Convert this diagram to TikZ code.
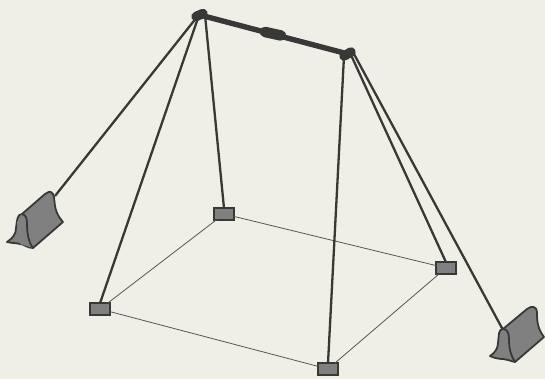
\documentclass[tikz,border=0pt]{standalone}
\definecolor{paper}{HTML}{F0EFE7}
\definecolor{ink}{HTML}{383836}
\definecolor{metal}{HTML}{808080}
\tikzset{
  x=1pt,y=-1pt,
  stake/.style={draw=ink,fill=metal,line width=2pt,minimum width=20pt,minimum height=11.5pt,inner sep=0pt,outer sep=0pt},
  cable/.style={draw=ink,line width=2.3pt},
  guide/.style={draw=ink!85,line width=0.8pt},
  bar/.style={draw=ink,line width=5.4pt},
  clamp/.style={draw=ink,line width=10.5pt,line cap=round},
  endclamp/.style={draw=ink,line width=9.5pt,line cap=round},
  anchor shape/.style={draw=ink,fill=metal,line width=1.8pt,line join=round},
  anchor edge/.style={draw=ink,line width=1.8pt,line join=round}
}
\begin{document}
\begin{tikzpicture}
\useasboundingbox (0,0) rectangle (545,379);
\fill[paper] (0,0) rectangle (545,379);
% points
\coordinate (LT) at (200,15);
\coordinate (RT) at (348,54);
\coordinate (LA) at (55,196);
\coordinate (RA) at (503,330);
% guide lines and stakes
\node[stake] (s1) at (224,214) {};
\node[stake] (s2) at (100,309) {};
\node[stake] (s3) at (446,268) {};
\node[stake] (s4) at (328,369) {};
\draw[guide] (s1) -- (s3);
\draw[guide] (s3) -- (s4);
\draw[guide] (s4) -- (s2);
\draw[guide] (s2) -- (s1);
% cables
\draw[cable] (LT) ++(-3,2) -- (LA);
\draw[cable] (LT) ++(-2,3) -- (s2.north);
\draw[cable] (LT) ++(5,0) -- (s1.north);
\draw[cable] (RT) ++(-4,2) -- (s4.north);
\draw[cable] (RT) ++(3,1) -- (s3.north);
\draw[cable] (RT) ++(6,0) -- (RA);
% top bar
\draw[bar] (LT) -- (RT);
\draw[clamp] (265,32) -- (281,35.5);
\draw[endclamp] (196,16.5) -- (203,13.5);
\draw[endclamp] (344,56) -- (351,52);
% left anchor
\draw[anchor shape] (22,214) -- (45,194) .. controls (50,190) and (53,192) .. (54,197)
  .. controls (55,204) and (54,212) .. (63,222) -- (33,248)
  .. controls (27,248) and (24,244) .. (20,244) .. controls (16,243) and (11,243) .. (7,242)
  .. controls (13,238) and (16,234) .. (16,228) .. controls (17,221) and (17,214) .. (22,214) -- cycle;
\fill[metal] (22,214) -- (33,248) -- (20,244) -- (17,222) -- cycle;
\draw[anchor edge] (22,214) .. controls (26,215) and (27,218) .. (27,224) .. controls (27,234) and (29,243) .. (33,248);
% right anchor
\draw[anchor shape] (503,329) -- (527,309) .. controls (532,305) and (537,307) .. (537,312)
  .. controls (537,320) and (537,328) .. (544,337) -- (515,362)
  .. controls (510,361) and (507,359) .. (503,359) .. controls (499,359) and (494,358) .. (490,356)
  .. controls (495,353) and (498,348) .. (498,343) .. controls (499,336) and (498,329) .. (503,329) -- cycle;
\draw[anchor edge] (503,329) .. controls (508,329) and (509,334) .. (509,340) .. controls (509,349) and (511,356) .. (515,362);
\end{tikzpicture}
\end{document}
